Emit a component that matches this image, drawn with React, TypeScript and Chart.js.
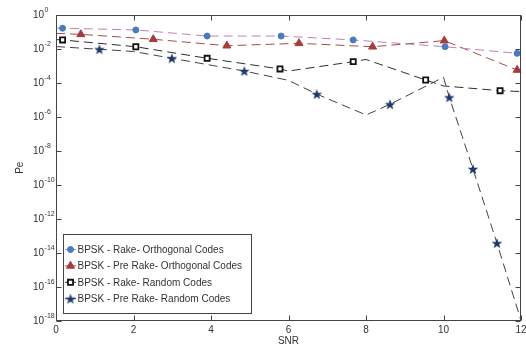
import React, { useEffect, useRef } from 'react';
import { Chart, registerables } from 'chart.js';

Chart.register(...registerables);

// ---------- data ----------
const xTickLabels = ['0', '2', '4', '6', '8', '10', '12'];
const yTickExponents = [0, -2, -4, -6, -8, -10, -12, -14, -16, -18];

const seriesNames = [
  'BPSK - Rake- Orthogonal Codes',
  'BPSK - Pre Rake- Orthogonal Codes',
  'BPSK - Rake- Random Codes',
  'BPSK - Pre Rake- Random Codes',
];

// BPSK - Rake- Orthogonal Codes
const rakeOrthMarkX = [0.17, 2.06, 3.9, 5.81, 7.67, 10.04, 11.9];
const rakeOrthMarkY = [0.166, 0.132, 0.0575, 0.0575, 0.0339, 0.0135, 0.0055];
const rakeOrthBendX = [0, 12];
const rakeOrthBendY = [0.17, 0.0051];

// BPSK - Pre Rake- Orthogonal Codes
const preRakeOrthMarkX = [0.64, 2.51, 4.41, 6.27, 8.17, 10.02, 11.9];
const preRakeOrthMarkY = [0.0724, 0.0372, 0.0155, 0.0214, 0.0135, 0.0309, 0.000575];
const preRakeOrthBendX = [0, 12];
const preRakeOrthBendY = [0.083, 0.00047];

// BPSK - Rake- Random Codes
const rakeRandMarkX = [0.17, 2.06, 3.9, 5.78, 7.67, 9.54, 11.46];
const rakeRandMarkY = [0.0339, 0.0135, 0.00282, 0.00066, 0.00178, 0.000148, 0.0000347];
const rakeRandBendX = [0, 6, 8, 10, 12];
const rakeRandBendY = [0.0355, 0.0005, 0.0024, 0.000066, 0.000031];

// BPSK - Pre Rake- Random Codes
const preRakeRandMarkX = [1.12, 2.99, 4.86, 6.73, 8.62, 10.15, 10.76, 11.38];
const preRakeRandMarkY = [0.00955, 0.00282, 0.0005, 0.0000219, 0.0000055, 0.0000141, 8.5e-10, 3.6e-14];
const preRakeRandBendX = [0, 2, 4, 6, 8, 10, 12];
const preRakeRandBendY = [0.0138, 0.00708, 0.0011, 0.000141, 0.00000129, 0.000214, 1e-18];

// ---------- styling ----------
const FONT = "'Liberation Sans', Arial, Helvetica, sans-serif";
const TEXT = '#333333';
const AXIS = '#444444';

type Pt = { x: number; y: number; m: boolean };

function buildPoints(mx: number[], my: number[], bx: number[], by: number[]): Pt[] {
  const pts: Pt[] = [
    ...mx.map((x, i) => ({ x, y: my[i], m: true })),
    ...bx.map((x, i) => ({ x, y: by[i], m: false })),
  ];
  pts.sort((a, b) => a.x - b.x);
  return pts;
}

function makeStar(color: string, outer: number, inner: number): HTMLCanvasElement {
  const size = Math.ceil(outer * 2 + 2);
  const c = document.createElement('canvas');
  c.width = size;
  c.height = size;
  const g = c.getContext('2d')!;
  const cx = size / 2;
  const cy = size / 2 + 0.5;
  g.beginPath();
  for (let i = 0; i < 10; i++) {
    const r = i % 2 === 0 ? outer : inner;
    const a = -Math.PI / 2 + (i * Math.PI) / 5;
    const px = cx + r * Math.cos(a);
    const py = cy + r * Math.sin(a);
    if (i === 0) g.moveTo(px, py);
    else g.lineTo(px, py);
  }
  g.closePath();
  g.fillStyle = color;
  g.fill();
  return c;
}

type MarkerSpec = {
  kind: 'circle' | 'triangle' | 'rect' | 'star';
  radius: number;
  fill: string;
  stroke: string;
  strokeWidth: number;
};

function drawMarker(ctx: CanvasRenderingContext2D, spec: MarkerSpec, x: number, y: number, star?: HTMLCanvasElement) {
  ctx.save();
  ctx.setLineDash([]);
  ctx.fillStyle = spec.fill;
  ctx.strokeStyle = spec.stroke;
  ctx.lineWidth = spec.strokeWidth;
  const r = spec.radius;
  if (spec.kind === 'circle') {
    ctx.beginPath();
    ctx.arc(x, y, r, 0, Math.PI * 2);
    ctx.fill();
    ctx.stroke();
  } else if (spec.kind === 'triangle') {
    ctx.beginPath();
    for (let i = 0; i < 3; i++) {
      const a = (i * 2 * Math.PI) / 3;
      const px = x + Math.sin(a) * r;
      const py = y - Math.cos(a) * r;
      if (i === 0) ctx.moveTo(px, py);
      else ctx.lineTo(px, py);
    }
    ctx.closePath();
    ctx.fill();
    ctx.stroke();
  } else if (spec.kind === 'rect') {
    const s = r * Math.SQRT1_2;
    ctx.beginPath();
    ctx.rect(x - s, y - s, 2 * s, 2 * s);
    ctx.fill();
    ctx.stroke();
  } else if (spec.kind === 'star' && star) {
    ctx.drawImage(star, x - star.width / 2, y - star.height / 2);
  }
  ctx.restore();
}

export default function App() {
  const canvasRef = useRef<HTMLCanvasElement | null>(null);

  useEffect(() => {
    if (!canvasRef.current) return;
    const starImg = makeStar('#1f3a66', 5.6, 2.3);

    const markers: MarkerSpec[] = [
      { kind: 'circle', radius: 3, fill: '#4a7bbd', stroke: '#4a7bbd', strokeWidth: 1 },
      { kind: 'triangle', radius: 4.6, fill: '#a83a3a', stroke: '#a83a3a', strokeWidth: 1 },
      { kind: 'rect', radius: 3.6, fill: '#ffffff', stroke: '#111111', strokeWidth: 1.8 },
      { kind: 'star', radius: 5.6, fill: '#1f3a66', stroke: '#1f3a66', strokeWidth: 1 },
    ];
    const lineColors = ['#bf80b8', '#a04e4e', '#2e2e2e', '#3b4350'];
    const dash = [9, 5];

    const pointSets = [
      buildPoints(rakeOrthMarkX, rakeOrthMarkY, rakeOrthBendX, rakeOrthBendY),
      buildPoints(preRakeOrthMarkX, preRakeOrthMarkY, preRakeOrthBendX, preRakeOrthBendY),
      buildPoints(rakeRandMarkX, rakeRandMarkY, rakeRandBendX, rakeRandBendY),
      buildPoints(preRakeRandMarkX, preRakeRandMarkY, preRakeRandBendX, preRakeRandBendY),
    ];

    const styleFor = (m: MarkerSpec) =>
      m.kind === 'star' ? (starImg as any) : m.kind === 'rect' ? 'rect' : m.kind;

    const datasets = pointSets.map((pts, i) => ({
      label: seriesNames[i],
      data: pts,
      borderColor: lineColors[i],
      borderWidth: 1,
      borderDash: dash,
      fill: false,
      tension: 0,
      pointStyle: styleFor(markers[i]),
      pointRadius: (c: any) => (c.raw && c.raw.m ? markers[i].radius : 0),
      pointBackgroundColor: markers[i].fill,
      pointBorderColor: markers[i].stroke,
      pointBorderWidth: markers[i].strokeWidth,
      clip: 4,
    }));

    const framePlugin = {
      id: 'matlabFrame',
      afterDatasetsDraw(chart: any) {
        const { ctx, chartArea: ca } = chart;
        const xs = chart.scales.x;
        const ys = chart.scales.y;
        ctx.save();
        ctx.setLineDash([]);
        ctx.strokeStyle = AXIS;
        ctx.lineWidth = 1;
        const L = Math.round(ca.left) + 0.5;
        const R = Math.round(ca.right) - 0.5;
        const T = Math.round(ca.top) + 0.5;
        const B = Math.round(ca.bottom) - 0.5;
        ctx.strokeRect(L, T, R - L, B - T);
        const tl = 5;
        ctx.beginPath();
        xs.ticks.forEach((t: any) => {
          const px = Math.round(xs.getPixelForValue(t.value)) + 0.5;
          ctx.moveTo(px, B);
          ctx.lineTo(px, B - tl);
          ctx.moveTo(px, T);
          ctx.lineTo(px, T + tl);
        });
        yTickExponents.forEach((e) => {
          const py = Math.round(ys.getPixelForValue(Math.pow(10, e))) + 0.5;
          ctx.moveTo(L, py);
          ctx.lineTo(L + tl, py);
          ctx.moveTo(R, py);
          ctx.lineTo(R - tl, py);
        });
        ctx.stroke();

        // y tick labels: 10 with superscript exponent
        ctx.fillStyle = TEXT;
        ctx.textBaseline = 'middle';
        ctx.textAlign = 'left';
        yTickExponents.forEach((e) => {
          const py = ys.getPixelForValue(Math.pow(10, e));
          ctx.font = `10px ${FONT}`;
          const baseX = ca.left - 23;
          ctx.fillText('10', baseX, py + 0.5);
          const w = ctx.measureText('10').width;
          ctx.font = `7px ${FONT}`;
          ctx.fillText(String(e), baseX + w + 0.5, py - 4.5);
        });
        ctx.restore();
      },
    };

    const legendPlugin = {
      id: 'insideLegend',
      afterDraw(chart: any) {
        const { ctx, chartArea: ca } = chart;
        ctx.save();
        const left = ca.left + 7;
        const top = 234;
        const width = 188;
        const height = 79;
        ctx.fillStyle = '#ffffff';
        ctx.fillRect(left, top, width, height);
        ctx.setLineDash([]);
        ctx.strokeStyle = AXIS;
        ctx.lineWidth = 1;
        ctx.strokeRect(Math.round(left) + 0.5, top + 0.5, width, height);
        seriesNames.forEach((name, i) => {
          const y = top + 15.5 + i * 16.4;
          ctx.strokeStyle = lineColors[i];
          ctx.lineWidth = 1;
          ctx.beginPath();
          ctx.moveTo(left + 2, y);
          ctx.lineTo(left + 13, y);
          ctx.stroke();
          drawMarker(ctx, markers[i], left + 7.5, y, starImg);
          ctx.fillStyle = TEXT;
          ctx.font = `10px ${FONT}`;
          ctx.textBaseline = 'middle';
          ctx.textAlign = 'left';
          ctx.fillText(name, left + 14.5, y + 0.5);
        });
        ctx.restore();
      },
    };

    const chart = new Chart(canvasRef.current, {
      type: 'line',
      data: { datasets: datasets as any },
      options: {
        animation: false,
        responsive: true,
        maintainAspectRatio: false,
        events: [],
        layout: { padding: { left: 8, right: 5, top: 15, bottom: 0 } },
        plugins: {
          legend: { display: false },
          tooltip: { enabled: false },
        },
        scales: {
          x: {
            type: 'linear',
            min: 0,
            max: 12,
            grid: { display: false, drawTicks: false },
            border: { display: false },
            ticks: {
              stepSize: 2,
              padding: 4,
              color: TEXT,
              font: { family: FONT, size: 10 },
              maxRotation: 0,
              callback: (v: any, i: number) => xTickLabels[i] ?? String(v),
            },
            title: {
              display: true,
              text: 'SNR',
              color: TEXT,
              font: { family: FONT, size: 10 },
              padding: { top: 0, bottom: -2 },
            },
            afterFit: (s: any) => {
              s.height = 24.5;
              s.paddingLeft = 0;
              s.paddingRight = 0;
            },
          },
          y: {
            type: 'logarithmic',
            min: 1e-18,
            max: 1,
            grid: { display: false, drawTicks: false },
            border: { display: false },
            ticks: { display: false },
            title: {
              display: true,
              text: 'Pe',
              color: TEXT,
              font: { family: FONT, size: 10 },
              padding: { top: 6, bottom: 0 },
            },
            afterBuildTicks: (s: any) => {
              s.ticks = yTickExponents.map((e) => ({ value: Math.pow(10, e) }));
            },
            afterFit: (s: any) => {
              s.width = 48;
              s.paddingTop = 0;
              s.paddingBottom = 0;
            },
          },
        },
      } as any,
      plugins: [framePlugin, legendPlugin],
    });

    return () => chart.destroy();
  }, []);

  return (
    <div style={{ position: 'fixed', left: 0, top: 0, width: 526, height: 345, background: '#ffffff' }}>
      <canvas ref={canvasRef} />
    </div>
  );
}
